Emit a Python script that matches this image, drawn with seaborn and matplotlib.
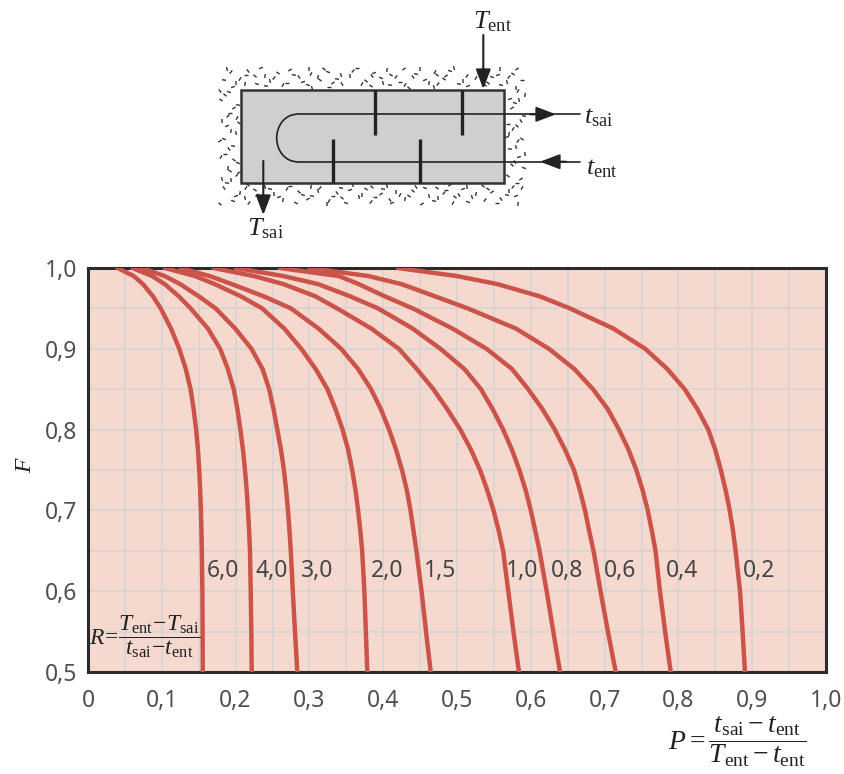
import numpy as np
import pandas as pd
import seaborn as sns
import matplotlib
matplotlib.use("Agg")
import matplotlib.pyplot as plt
from matplotlib.patches import Rectangle, Arc
from matplotlib.collections import LineCollection

# F levels the curves were read at, then P at each level for every R
f_levels = [1.0, .99, .98, .965, .95, .925, .9, .875, .85, .825, .8, .775, .75, .725, .7, .675, .65, .6, .55, .5]
p_60 = [.04, .062, .0745, .088, .0985, .1125, .1237, .1325, .139, .1432, .1465, .149, .1507, .152, .153, .1537, .1542, .155, .1553, .1555]
p_40 = [.06, .087, .104, .123, .139, .1625, .179, .1895, .1975, .2025, .2065, .21, .2127, .215, .2168, .2183, .2195, .2205, .2213, .2218]
p_30 = [.073, .104, .125, .15, .173, .1995, .2215, .2365, .2455, .2515, .2565, .2615, .2655, .2685, .271, .273, .2748, .2775, .2805, .2836]
p_20 = [.104, .145, .172, .207, .236, .266, .289, .3085, .3245, .3355, .345, .3525, .358, .3625, .366, .369, .3715, .3745, .3765, .3785]
p_15 = [.125, .165, .195, .238, .275, .3125, .343, .366, .3835, .397, .408, .4175, .4255, .432, .437, .441, .445, .452, .458, .4644]
p_10 = [.17, .225, .265, .308, .3375, .384, .4212, .4455, .468, .487, .5045, .519, .5312, .541, .5495, .5565, .5625, .5695, .5765, .584]
p_08 = [.2, .265, .312, .355, .393, .44, .4775, .51, .5325, .5485, .5625, .5745, .5845, .593, .6, .606, .6118, .6215, .6305, .6396]
p_06 = [.26, .34, .367, .402, .44, .494, .54, .5745, .5965, .616, .6325, .6465, .6585, .6665, .6735, .679, .685, .6945, .7045, .7151]
p_04 = [.3, .38, .425, .47, .5145, .58, .6245, .659, .6843, .7045, .7195, .7325, .743, .7515, .7585, .764, .769, .775, .782, .7896]
p_02 = [.42, .5, .555, .612, .653, .712, .755, .785, .8085, .826, .8405, .85, .8575, .864, .8695, .874, .8775, .8835, .887, .8902]

curve_names = ["6,0", "4,0", "3,0", "2,0", "1,5", "1,0", "0,8", "0,6", "0,4", "0,2"]
curve_p = [p_60, p_40, p_30, p_20, p_15, p_10, p_08, p_06, p_04, p_02]
label_p = [.1829, .2490, .3103, .4048, .4770, .5877, .6490, .7209, .8045, .9092]
label_f = .625

x_ticks = [0, .1, .2, .3, .4, .5, .6, .7, .8, .9, 1.0]
x_tick_labels = ["0", "0,1", "0,2", "0,3", "0,4", "0,5", "0,6", "0,7", "0,8", "0,9", "1,0"]
y_ticks = [.5, .6, .7, .8, .9, 1.0]
y_tick_labels = ["0,5", "0,6", "0,7", "0,8", "0,9", "1,0"]

frames = []
for name, p in zip(curve_names, curve_p):
    frames.append(pd.DataFrame({"P": p, "F": f_levels, "R": name}))
data = pd.concat(frames)

sns.set_theme(style="white")
plt.rcParams["font.family"] = ["Noto Sans", "DejaVu Sans"]
plt.rcParams["mathtext.fontset"] = "custom"
plt.rcParams["mathtext.rm"] = "Liberation Serif"
plt.rcParams["mathtext.it"] = "Liberation Serif:italic"
plt.rcParams["mathtext.bf"] = "Liberation Serif:bold"

W, H = 845, 774
fig = plt.figure(figsize=(W / 100, H / 100), dpi=100)
ax = fig.add_axes([88 / W, 1 - 672 / H, (826 - 88) / W, (672 - 268) / H])
ax.set_facecolor("#F5D9CF")

red = "#CB5349"
sns.lineplot(data=data, x="P", y="F", hue="R", palette=[red] * 10, units="R", estimator=None,
             sort=False, linewidth=3.2, legend=False, ax=ax, zorder=3)
for line in ax.get_lines():
    line.set_solid_joinstyle("round")

ax.set_xlim(0, 1)
ax.set_ylim(.5, 1)
ax.set_xticks(x_ticks)
ax.set_xticklabels(x_tick_labels)
ax.set_yticks(y_ticks)
ax.set_yticklabels(y_tick_labels)
ax.set_xticks(np.arange(.05, 1, .1), minor=True)
ax.set_yticks(np.arange(.55, 1, .1), minor=True)
ax.grid(True, which="both", color="#D6D4D2", linewidth=1.2)
ax.set_axisbelow(True)
ax.tick_params(axis="both", which="both", length=0, labelsize=16.5, labelcolor="#505050")
ax.tick_params(axis="x", pad=12)
ax.tick_params(axis="y", pad=8)
ax.set_xlabel("")
ax.set_ylabel("")
for s in ax.spines.values():
    s.set_visible(True)
    s.set_color("#2B2B2B")
    s.set_linewidth(2.2)

for name, x in zip(curve_names, label_p):
    ax.text(x, label_f, name, ha="center", va="center", fontsize=16.5, color="#454545", zorder=4)

# overlay in pixel coordinates for the exchanger sketch and the formulas
ov = fig.add_axes([0, 0, 1, 1], facecolor="none")
ov.set_xlim(0, W)
ov.set_ylim(H, 0)
ov.axis("off")

# insulation specks, irregular by cycling lists of unequal length
speck_x = np.arange(224, 524, 9)
speck_y = np.arange(72, 205, 8)
angles = [20, 75, 130, 0, 55, 160, 100, 35, 145, 10, 85, 120, 40]
shifts_x = [0, 3, -2, 4, -3, 1, -4]
shifts_y = [2, -3, 0, 3, -1, -4, 4, 1, -2, 3, -3]
segs = []
k = 0
for yy in speck_y:
    for xx in speck_x:
        k += 1
        sx = xx + shifts_x[k % 7]
        sy = yy + shifts_y[k % 11]
        if 239 < sx < 507 and 88 < sy < 185:
            continue
        a = np.radians(angles[k % 13])
        segs.append([(sx - 2 * np.cos(a), sy - 2 * np.sin(a)), (sx + 2 * np.cos(a), sy + 2 * np.sin(a))])
ov.add_collection(LineCollection(segs, colors="#333333", linewidths=1.0))

ov.add_patch(Rectangle((241, 90), 263, 93, facecolor="#CFCFD1", edgecolor="#333333", linewidth=1.8))

tube = "#222222"
ov.plot([296.7, 580], [114.3, 114.3], color=tube, lw=1.2)
ov.plot([296.7, 580], [161.7, 161.7], color=tube, lw=1.2)
ov.add_patch(Arc((296.7, 138), 40, 47.4, theta1=90, theta2=270, color=tube, lw=1.2))
for x, y0, y1 in [(374.7, 90, 135), (462, 90, 135), (332.7, 139, 183), (420, 139, 183)]:
    ov.plot([x, x], [y0, y1], color="#222222", lw=2.4, solid_capstyle="butt")

arrow = dict(arrowstyle="-|>,head_length=1.0,head_width=0.38", color="#222222", lw=1.5,
             shrinkA=0, shrinkB=0, mutation_scale=12)
ov.annotate("", xy=(556, 114.3), xytext=(530, 114.3), arrowprops=arrow)
ov.annotate("", xy=(540, 161.7), xytext=(566, 161.7), arrowprops=arrow)
ov.annotate("", xy=(483.3, 89), xytext=(483.3, 35), arrowprops=arrow)
ov.annotate("", xy=(263.3, 215), xytext=(263.3, 161), arrowprops=arrow)

mt = dict(color="#222222", ha="center", va="center")
ov.text(493, 21, r"$T_{\mathrm{ent}}$", fontsize=19, **mt)
ov.text(265, 228, r"$T_{\mathrm{sai}}$", fontsize=19, **mt)
ov.text(599, 116, r"$t_{\mathrm{sai}}$", fontsize=19, **mt)
ov.text(602, 167, r"$t_{\mathrm{ent}}$", fontsize=19, **mt)
ov.text(25, 465, r"$F$", fontsize=17, rotation=90, **mt)
ov.text(145, 637, r"$R\!=\!\dfrac{T_{\mathrm{ent}}\!-\!T_{\mathrm{sai}}}{t_{\mathrm{sai}}\!-\!t_{\mathrm{ent}}}$", fontsize=17, **mt)
ov.text(737, 742, r"$P=\dfrac{t_{\mathrm{sai}}-t_{\mathrm{ent}}}{T_{\mathrm{ent}}-t_{\mathrm{ent}}}$", fontsize=20, **mt)

fig.savefig("out.png", dpi=100)
